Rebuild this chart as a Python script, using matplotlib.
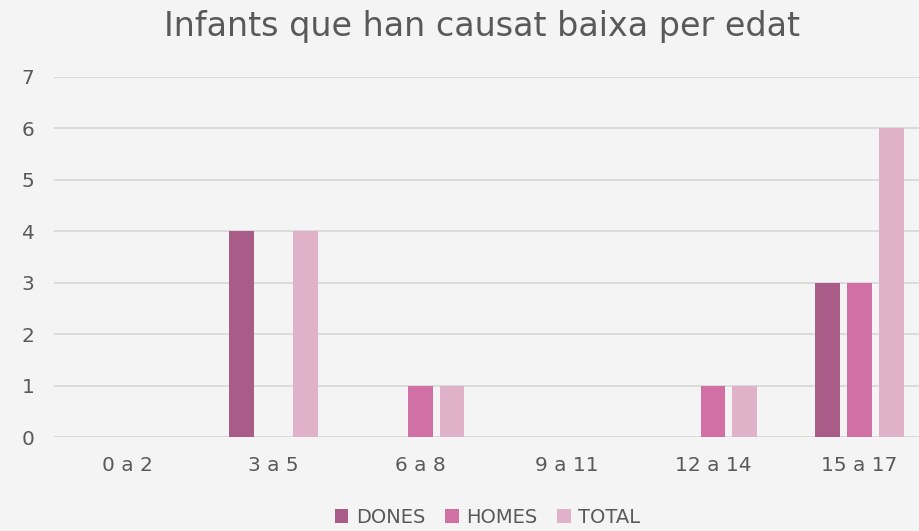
import numpy as np
import matplotlib.pyplot as plt

categories = ['0 a 2', '3 a 5', '6 a 8', '9 a 11', '12 a 14', '15 a 17']
dones = [0, 4, 0, 0, 0, 3]
homes = [0, 0, 1, 0, 1, 3]
total = [0, 4, 1, 0, 1, 6]

series = [('DONES', dones, '#a95c88'),
          ('HOMES', homes, '#d070a4'),
          ('TOTAL', total, '#e0b2ca')]

bg = '#f4f4f4'
txt = '#595959'

fig = plt.figure(figsize=(9.2, 5.31), dpi=100, facecolor=bg)
# axes run slightly past the right edge, as in the original
ax = fig.add_axes([0.0587, 0.177, 0.955, 0.678], facecolor=bg)

x = np.arange(len(categories))
w = 0.17
step = 0.218
for i, (name, vals, col) in enumerate(series):
    ax.bar(x + (i - 1) * step, vals, width=w, color=col, label=name, zorder=3)

ax.set_xlim(-0.5, len(categories) - 0.5)
ax.set_ylim(0, 7)
ax.set_yticks(range(8))
ax.yaxis.grid(True, color='#d9d9d9', linewidth=1.3, zorder=0)
ax.set_xticks(x)
ax.set_xticklabels(categories)
ax.tick_params(axis='both', length=0, labelsize=14.5, colors=txt)
ax.tick_params(axis='x', pad=14)
ax.tick_params(axis='y', pad=14)
for s in ax.spines.values():
    s.set_visible(False)

fig.suptitle('Infants que han causat baixa per edat', fontsize=24, color=txt,
             x=0.524, y=0.982, va='top')

fig.legend(loc='lower center', bbox_to_anchor=(0.53, -0.025), ncol=3, frameon=False,
           fontsize=14, labelcolor=txt, handlelength=0.7, handleheight=0.7,
           handletextpad=0.4, columnspacing=1.0)

fig.savefig('out.png', dpi=100, facecolor=bg)
